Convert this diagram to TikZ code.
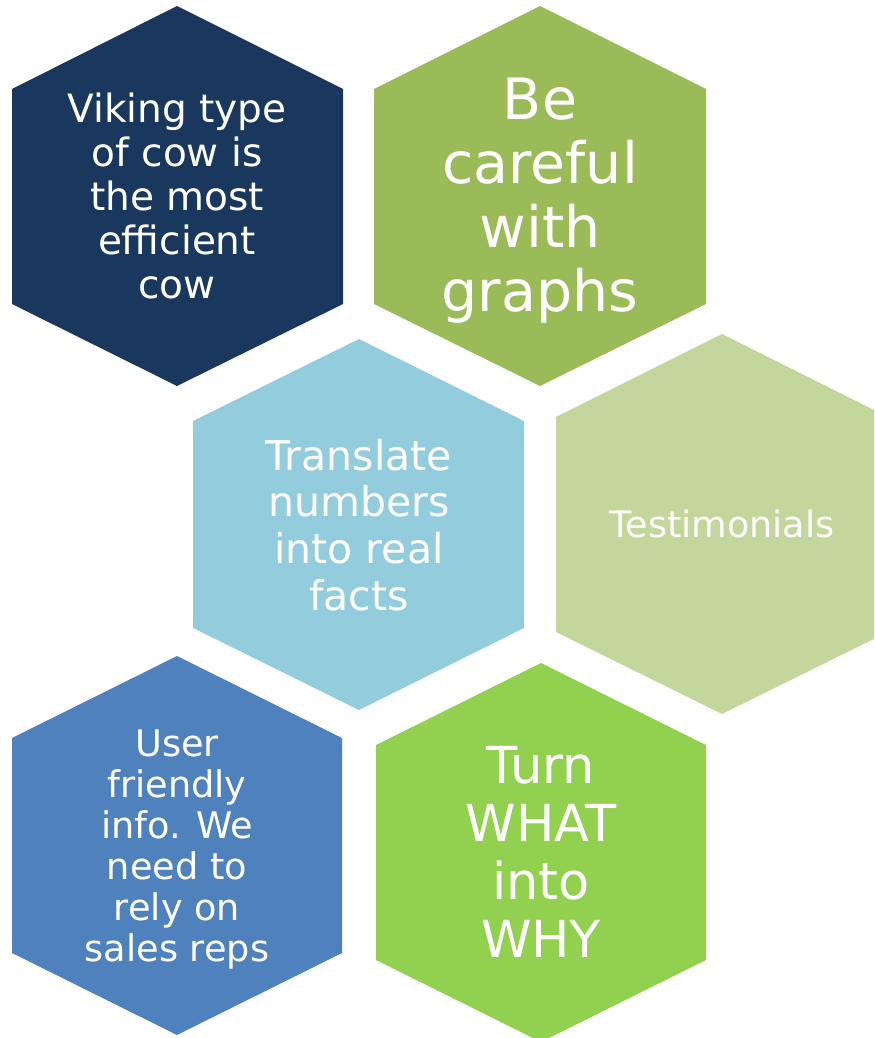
\documentclass[tikz,border=0pt]{standalone}
\usepackage{fontspec}
\setmainfont{DejaVu Sans}
\usepackage{xcolor}

\definecolor{vikingnavy}{HTML}{1A375E}
\definecolor{graphsolive}{HTML}{9BBB59}
\definecolor{factsblue}{HTML}{93CDDD}
\definecolor{testigreen}{HTML}{C3D69B}
\definecolor{repsblue}{HTML}{4F81BD}
\definecolor{whygreen}{HTML}{92D050}

\begin{document}
\begin{tikzpicture}[x=.75pt, y=-.75pt,
    hexcell/.style={draw=none},
    celltext/.style={text=white, align=center, inner sep=0pt}]
                \useasboundingbox (0,0) rectangle (874,1038);
                \clip (0,0) rectangle (874,1038);

                \fill [hexcell, vikingnavy] (177,6) -- (12,89) -- (12,304) -- (177,386) -- (343,304) -- (343,89) -- cycle;
                \node [celltext, font=\fontsize{29.25}{33}\selectfont] (viking) at (177,196)
                    {Viking type\\of cow is\\the most\\efficient\\cow};

                \fill [hexcell, graphsolive] (540,6) -- (374,89) -- (374,304) -- (540,386) -- (706,304) -- (706,89) -- cycle;
                \node [celltext, font=\fontsize{42.75}{48}\selectfont] (graphs) at (540,201)
                    {Be\\careful\\with\\graphs};

                \fill [hexcell, factsblue] (359,339) -- (193,421) -- (193,628) -- (359,710) -- (524,628) -- (524,421) -- cycle;
                \node [celltext, font=\fontsize{30.75}{35}\selectfont] (facts) at (359,525)
                    {Translate\\numbers\\into real\\facts};

                \fill [hexcell, testigreen] (722,334) -- (556,417) -- (556,632) -- (722,714) -- (888,632) -- (888,417) -- cycle;
                \node [celltext, font=\fontsize{27.4}{31}\selectfont] (testimonials) at (722,524)
                    {Testimonials};

                \fill [hexcell, repsblue] (177,656) -- (12,738) -- (12,953) -- (177,1035) -- (342,953) -- (342,738) -- cycle;
                \node [celltext, font=\fontsize{27.5}{30.75}\selectfont] (salesreps) at (177,849)
                    {User\\friendly\\info. We\\need to\\rely on\\sales reps};

                \fill [hexcell, whygreen] (541,663) -- (376,745) -- (376,960) -- (541,1042) -- (706,960) -- (706,745) -- cycle;
                \node [celltext, font=\fontsize{38.25}{43.5}\selectfont] (whatwhy) at (541,852)
                    {Turn\\WHAT\\into\\WHY};
\end{tikzpicture}
\end{document}
